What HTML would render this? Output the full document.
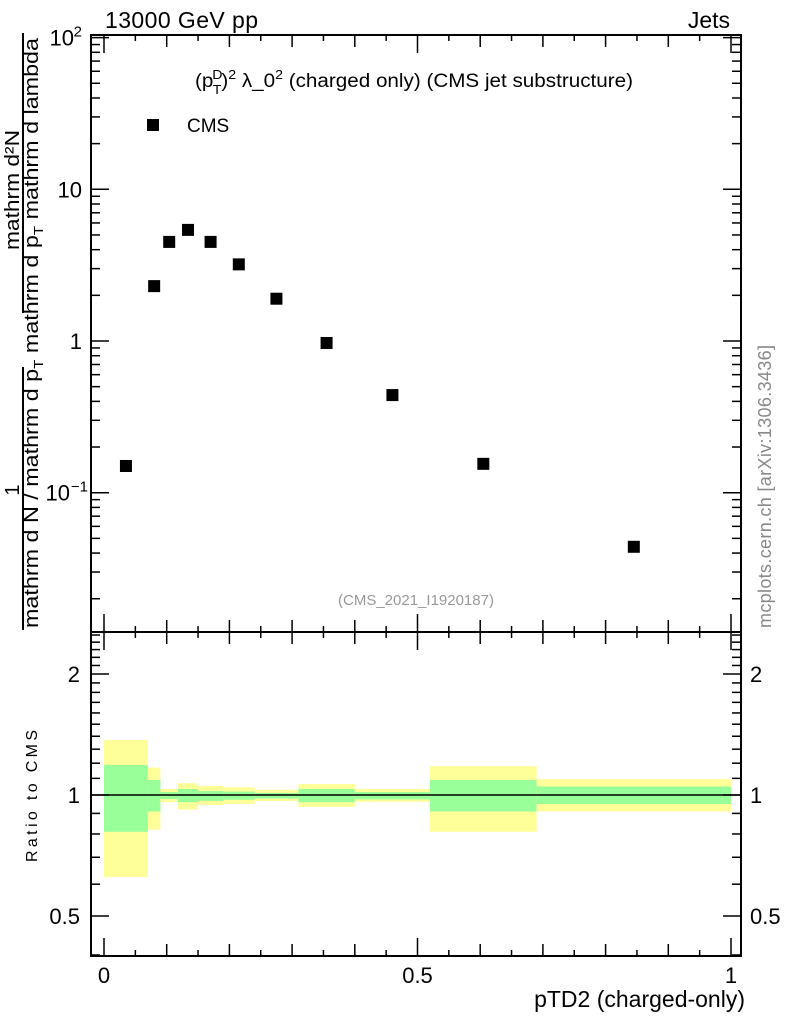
<!DOCTYPE html>
<html><head><meta charset="utf-8"><style>
body{margin:0;background:#fff}
svg{display:block;font-family:"Liberation Sans",sans-serif}
</style></head><body>
<svg id="c" width="786" height="1024" viewBox="0 0 786 1024">
<g id="bands"></g>
<g id="axes"></g>
<g id="pts"></g>
<text x="105" y="28" font-size="23" textLength="153">13000 GeV pp</text>
<text x="730" y="28" font-size="23" text-anchor="end">Jets</text>
<text x="195" y="87" font-size="19" textLength="438" lengthAdjust="spacingAndGlyphs">(p<tspan font-size="13" dy="-8" dx="-1">D</tspan><tspan font-size="13" dy="15" dx="-9">T</tspan><tspan dy="-7">)</tspan><tspan font-size="13" dy="-8">2</tspan><tspan dy="8"> λ_0</tspan><tspan font-size="13" dy="-8">2</tspan><tspan dy="8"> (charged only) (CMS jet substructure)</tspan></text>
<rect x="147" y="119" width="12" height="12" fill="#000"/>
<text x="187" y="132" font-size="19">CMS</text>
<text x="416" y="605" font-size="15" fill="#999" text-anchor="middle">(CMS_2021_I1920187)</text>
<text transform="translate(771,628) rotate(-90)" font-size="18" textLength="283" fill="#888">mcplots.cern.ch [arXiv:1306.3436]</text>
<text transform="translate(37,862) rotate(-90)" font-size="16" textLength="132">Ratio to CMS</text>
<text x="745" y="1007" font-size="23" text-anchor="end">pTD2 (charged-only)</text>
<g font-size="20">
<text transform="translate(19,490) rotate(-90)" text-anchor="middle">1</text>
<line x1="23" y1="367" x2="23" y2="630" stroke="#000" stroke-width="2"/>
<text transform="translate(38,628) rotate(-90)" textLength="590" lengthAdjust="spacingAndGlyphs">mathrm d N / mathrm d p<tspan font-size="13" dy="5">T</tspan><tspan dy="-5"> mathrm d p</tspan><tspan font-size="13" dy="5">T</tspan><tspan dy="-5"> mathrm d lambda</tspan></text>
<text transform="translate(19,250) rotate(-90)" textLength="120" lengthAdjust="spacingAndGlyphs">mathrm d²N</text>
<line x1="23" y1="33" x2="23" y2="313" stroke="#000" stroke-width="2"/>
</g>
</svg>
<script>
const edges=[0,0.07,0.09,0.118,0.15,0.19,0.24,0.31,0.4,0.52,0.69,1.0];
const values=[0.15,2.3,4.5,5.4,4.5,3.2,1.9,0.97,0.44,0.155,0.044];
const yellowHi=[1.37,1.17,1.035,1.07,1.053,1.045,1.03,1.065,1.035,1.18,1.095];
const yellowLo=[0.625,0.82,0.96,0.92,0.944,0.95,0.966,0.934,0.962,0.81,0.91];
const greenHi=[1.188,1.09,1.017,1.035,1.023,1.02,1.012,1.035,1.017,1.09,1.05];
const greenLo=[0.81,0.91,0.977,0.96,0.967,0.973,0.98,0.96,0.975,0.91,0.95];
const xTicks=[0,0.5,1];
const xTickLabels=["0","0.5","1"];
const ratioTicks=[0.5,1,2];
const ratioTickLabels=["0.5","1","2"];

const NS="http://www.w3.org/2000/svg";
const L=91,R=741,T=35,M=632,B=956;
const X=v=>104+v*627;
const Y=v=>341-Math.log10(v)*151.7;
const RY=v=>795-Math.log10(v)*402;
function mk(tag,attrs,parent){const e=document.createElementNS(NS,tag);for(const k in attrs)e.setAttribute(k,attrs[k]);document.getElementById(parent).appendChild(e);return e;}
for(let i=0;i<values.length;i++){
 const x0=X(edges[i]),x1=X(edges[i+1]);
 const y=mk('rect',{x:x0,y:RY(yellowHi[i]),width:x1-x0,height:RY(yellowLo[i])-RY(yellowHi[i]),fill:'#ffff99'},'bands');
 
 
 const g=mk('rect',{x:x0,y:RY(greenHi[i]),width:x1-x0,height:RY(greenLo[i])-RY(greenHi[i]),fill:'#99ff99'},'bands');
 
 
}
for(let i=0;i<values.length;i++){
 const xc=X((edges[i]+edges[i+1])/2),yc=Y(values[i]);
 const p=mk('rect',{x:xc-6,y:yc-6,width:12,height:12,fill:'#000'},'pts');
 
 
}
const sw={stroke:'#000','stroke-width':2,fill:'none'};
mk('rect',Object.assign({x:L,y:T,width:R-L,height:M-T},sw),'axes');
mk('rect',Object.assign({x:L,y:M,width:R-L,height:B-M},sw),'axes');
mk('line',{x1:L,x2:R,y1:RY(1),y2:RY(1),stroke:'#000','stroke-width':1.5},'axes');
function tick(x1,y1,x2,y2){mk('line',{x1,y1,x2,y2,stroke:'#000','stroke-width':1.5},'axes');}
for(let k=0;k<=20;k++){const v=k*0.05,x=X(v);const len=(k%10==0)?18:(k%2==0?12:6);
 [[T,1],[M,-1],[M,1],[B,-1]].forEach(([y,d])=>tick(x,y,x,y+d*len));}
xTicks.forEach((v,i)=>{const t=mk('text',{x:X(v),y:983,'font-size':22,'text-anchor':'middle'},'axes');t.textContent=xTickLabels[i];});
for(let e=-2;e<=1;e++)for(let m=1;m<=9;m++){const v=m*Math.pow(10,e),y=Y(v);if(y<T||y>M)continue;const len=m==1?18:9;tick(L,y,L+len,y);tick(R,y,R-len,y);}
tick(L,Y(100),L+18,Y(100));tick(R,Y(100),R-18,Y(100));
[[100,'10','2'],[10,'10',''],[1,'1',''],[0.1,'10','−1']].forEach(([v,b,s])=>{const t=mk('text',{x:s?(s.length>1?70:74):82,y:Y(v)+8,'font-size':22,'text-anchor':'end'},'axes');t.textContent=b;if(s){const u=mk('text',{x:s.length>1?88:82,y:Y(v)-1,'font-size':15,'text-anchor':'end'},'axes');u.textContent=s;}});
for(let k=4;k<=25;k++){const v=k/10,y=RY(v);if(y<M||y>B)continue;const len=(v==0.5||v==1||v==2)?18:9;tick(L,y,L+len,y);tick(R,y,R-len,y);}
ratioTicks.forEach((v,i)=>{let t=mk('text',{x:80,y:RY(v)+8,'font-size':22,'text-anchor':'end'},'axes');t.textContent=ratioTickLabels[i];t=mk('text',{x:750,y:RY(v)+8,'font-size':22},'axes');t.textContent=ratioTickLabels[i];});
</script>
</body></html>
